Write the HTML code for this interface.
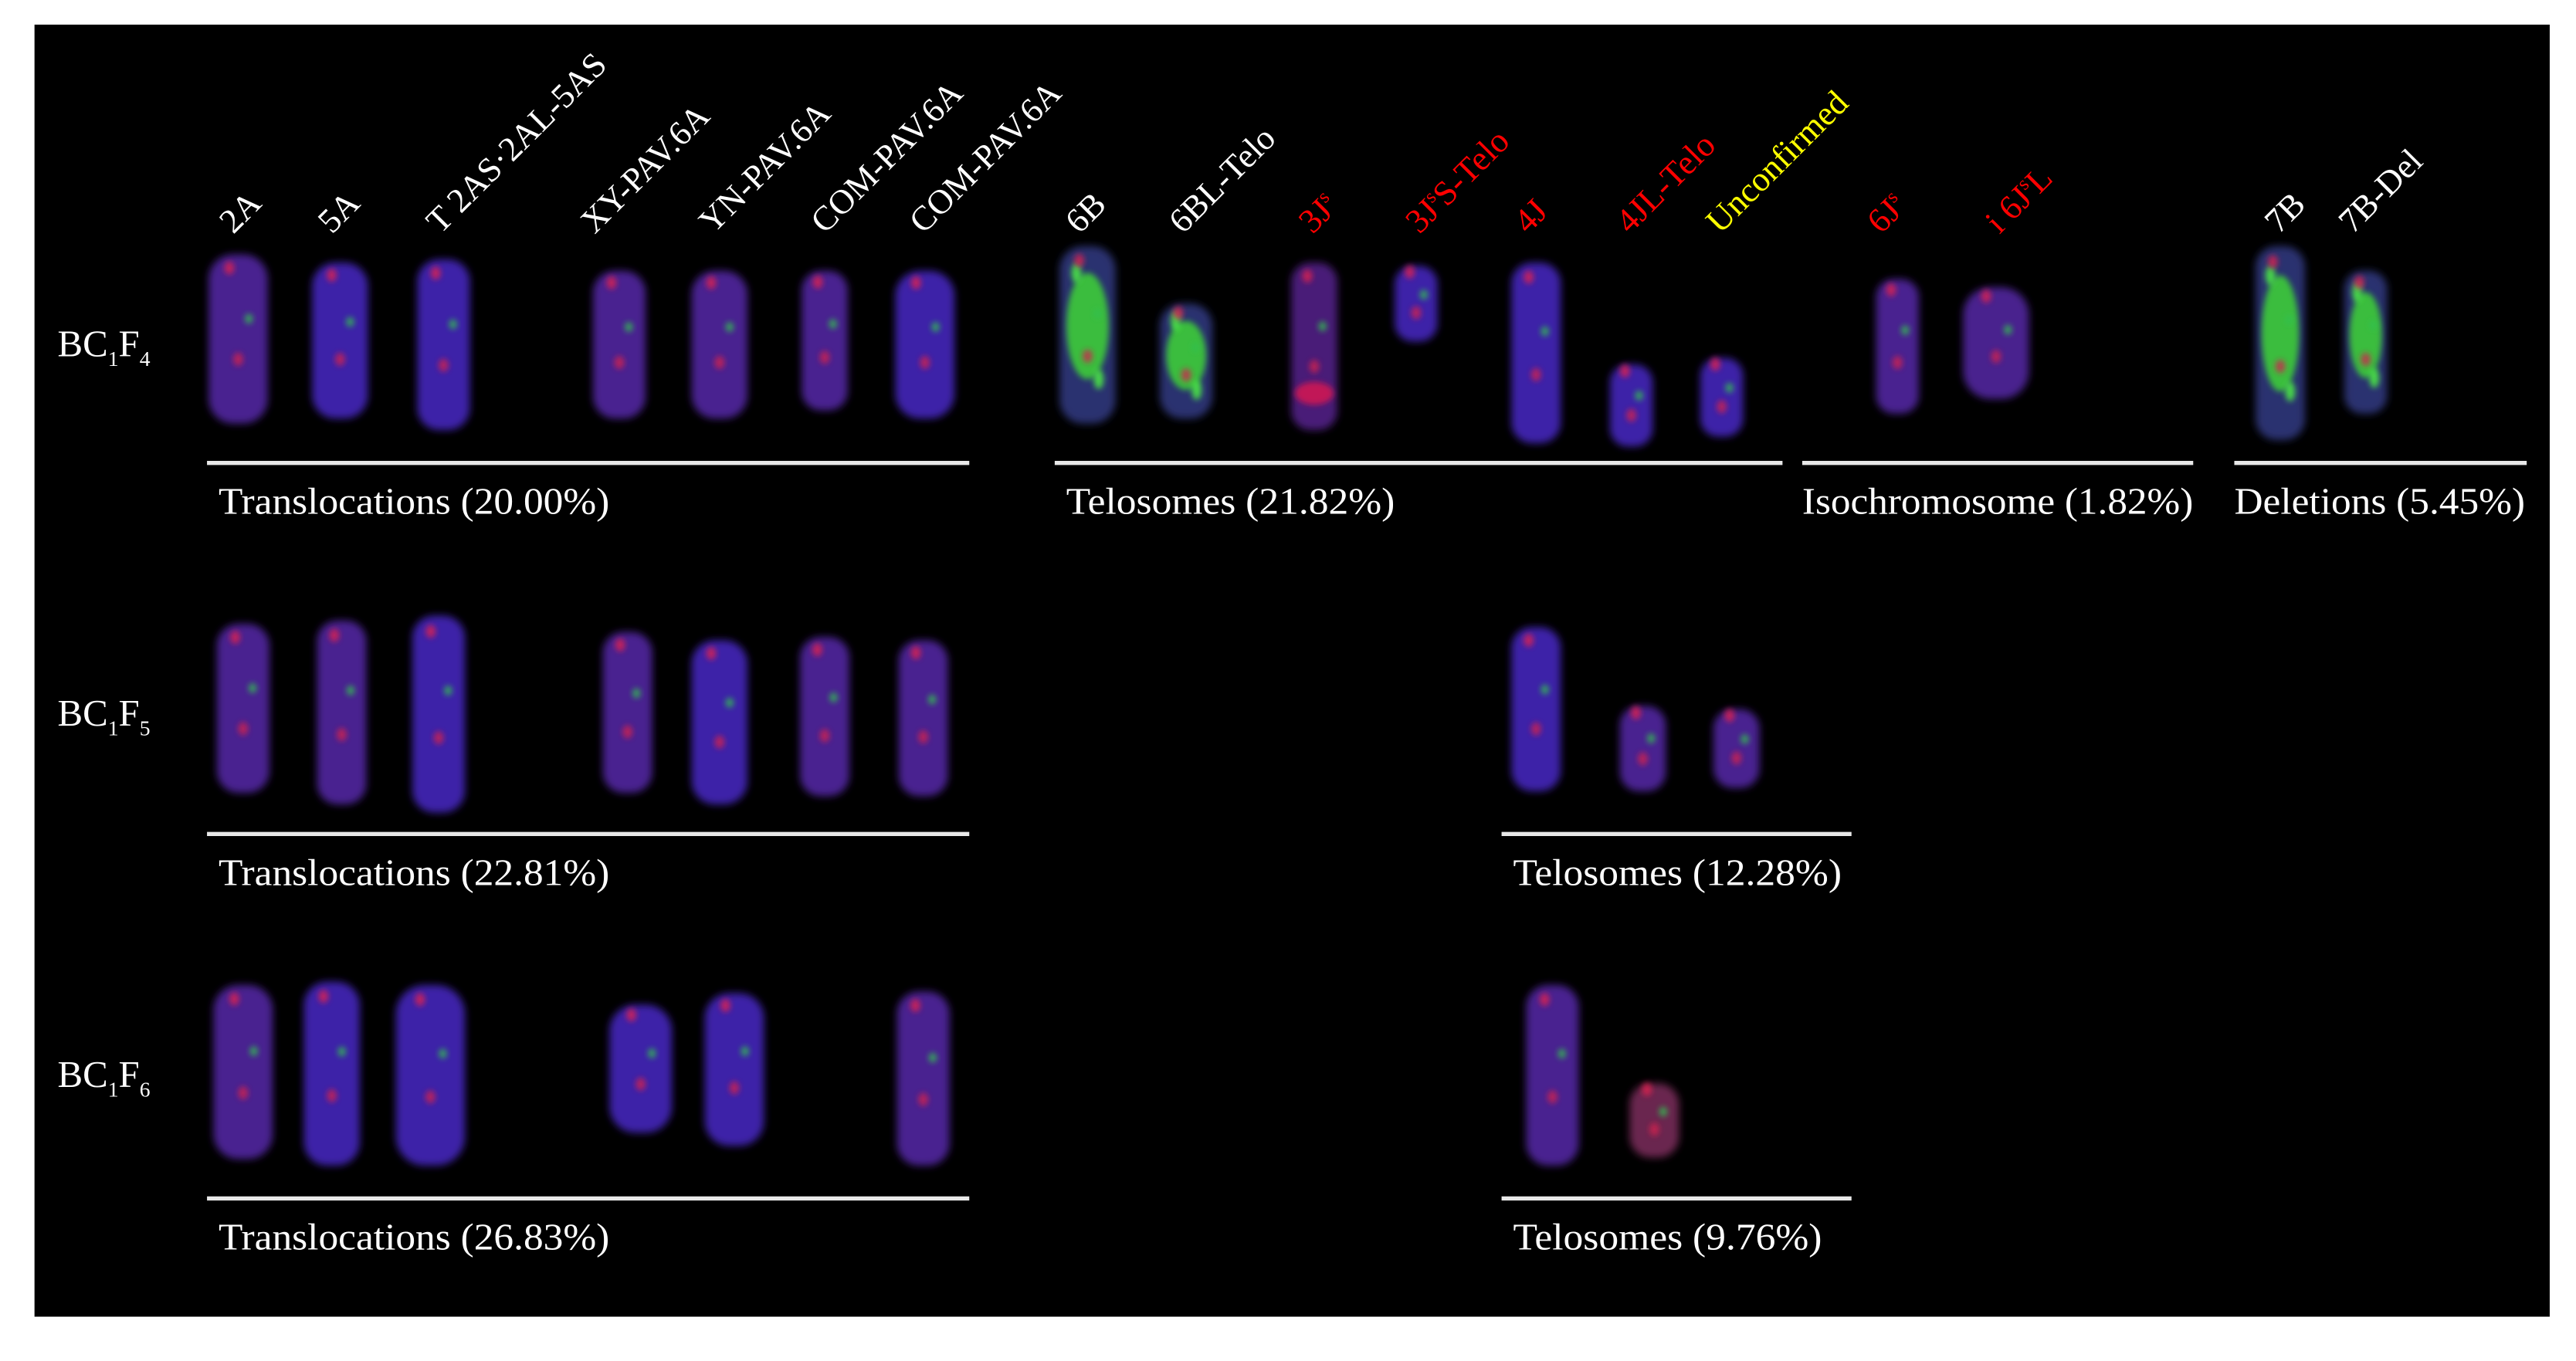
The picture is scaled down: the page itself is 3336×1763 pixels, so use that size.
<!DOCTYPE html>
<html><head><meta charset="utf-8">
<style>
html,body{margin:0;padding:0;background:#fff;}
svg{display:block;}
</style></head>
<body>
<svg id="fig" width="3336" height="1763" viewBox="0 0 1568 829" preserveAspectRatio="none" xmlns="http://www.w3.org/2000/svg" font-family="'Liberation Serif', serif">
<defs>
<filter id="blur" x="-50%" y="-50%" width="200%" height="200%"><feGaussianBlur stdDeviation="2.4"/></filter>
<filter id="blur2" x="-50%" y="-50%" width="200%" height="200%"><feGaussianBlur stdDeviation="1.8"/></filter>
</defs>
<rect x="21" y="15" width="1531" height="787" fill="#000"/>
<g id="chroms"></g>
<g id="labels"></g>
<g id="groups"></g>
<g fill="#fff" font-size="23" font-family="'Liberation Serif', serif">
<text x="35" y="217">BC<tspan font-size="13" dy="6">1</tspan><tspan dy="-6">F</tspan><tspan font-size="13" dy="6">4</tspan></text>
<text x="35" y="442">BC<tspan font-size="13" dy="6">1</tspan><tspan dy="-6">F</tspan><tspan font-size="13" dy="6">5</tspan></text>
<text x="35" y="662">BC<tspan font-size="13" dy="6">1</tspan><tspan dy="-6">F</tspan><tspan font-size="13" dy="6">6</tspan></text>
</g>
</svg>
<script>
const NS="http://www.w3.org/2000/svg";
const labelText=["2A","5A","T 2AS·2AL-5AS","XY-PAV.6A","YN-PAV.6A","COM-PAV.6A","COM-PAV.6A","6B","6BL-Telo","3J","3J","4J","4JL-Telo","Unconfirmed","6J","i 6J"];
const labelSup=["","","","","","","","","","s","s","","","","s","s"];
const labelTail=["","","","","","","","","","","S-Telo","","","","","L"];
const labelX=[142,202,268,362,434,502,562,657,720,799,864,930,992,1047,1145,1217];
const labelColor=["#fff","#fff","#fff","#fff","#fff","#fff","#fff","#fff","#fff","#f00","#f00","#f00","#f00","#ff0","#f00","#f00"];
const label2Text=["7B","7B-Del"];
const label2X=[1387,1432];

const chrX=[145,207,270,377,438,502,563,662,722,800,862,935,993,1048,1155,1215,1388,1440,
 148,208,267,382,438,502,562,935,1000,1057,
 148,202,262,390,447,562,945,1007];
const chrTop=[155,160,158,165,165,165,165,150,185,160,162,160,222,218,170,175,150,165,
 380,378,375,385,390,388,390,382,430,432,
 600,598,600,612,605,604,600,660];
const chrBot=[258,255,262,255,255,250,255,258,255,262,208,270,272,266,252,243,268,252,
 483,490,495,483,490,485,485,482,482,480,
 706,710,710,690,698,710,710,705];
const chrW=[36,34,32,32,34,28,36,34,32,28,26,30,26,26,26,40,30,26,
 32,30,32,30,34,30,30,30,28,28,
 36,34,42,38,36,32,32,30];
const chrType=["r","b","b","r","r","r","b","g","g","rr","b","b","b","b","r","c","g","g",
 "r","r","b","r","b","r","r","b","r","r",
 "r","b","b","b","b","r","r","o"];
const fills={r:"#4a2490",b:"#3c22a8",g:"#2a3070",rr:"#4a1c78",c:"#48248e",o:"#6a2850"};

const cg=document.getElementById('chroms');
for(let i=0;i<chrX.length;i++){
  const x=chrX[i],t=chrTop[i],b=chrBot[i],w=chrW[i];
  const r=document.createElementNS(NS,'rect');
  
  
  r.setAttribute('x',x-w/2);r.setAttribute('y',t);r.setAttribute('width',w);r.setAttribute('height',b-t);
  r.setAttribute('rx',w/2.4);r.setAttribute('fill',fills[chrType[i]]);r.setAttribute('filter','url(#blur)');
  cg.appendChild(r);
  const h=b-t;
  const spots=[];
  if(chrType[i]==="g"){spots.push([0,0.45,w*0.38,'#40e030',0.3*h]);spots.push([-w*0.2,0.15,3,'#50ff40',6]);spots.push([w*0.2,0.75,3,'#50ff40',6]);}
  else if(chrType[i]==="rr"){spots.push([0,0.78,w*0.42,'#e01850',7]);}
  spots.push([-w*0.15,0.08,3,'#e02050',4]);spots.push([w*0.18,0.38,2.5,'#30c050',3]);spots.push([0,0.62,3,'#d02050',4]);
  for(const s of spots){
    const e=document.createElementNS(NS,'ellipse');
    
    
    e.setAttribute('cx',x+s[0]);e.setAttribute('cy',t+h*s[1]);e.setAttribute('rx',s[2]);e.setAttribute('ry',s[4]);
    e.setAttribute('fill',s[3]);e.setAttribute('filter','url(#blur2)');e.setAttribute('opacity','0.8');
    cg.appendChild(e);
  }
}

const lg=document.getElementById('labels');
function addLabel(x,txt,sup,tail,col){
  const t=document.createElementNS(NS,'text');
  
  
  t.setAttribute('x',x);t.setAttribute('y',143);t.setAttribute('fill',col);t.setAttribute('font-size','21');
  t.setAttribute('font-family',"'Liberation Serif', serif");
  t.setAttribute('transform','rotate(-45 '+x+' 143)');
  t.textContent=txt;
  if(sup){const s=document.createElementNS(NS,'tspan');s.setAttribute('font-size','12');s.setAttribute('dy','-8');s.textContent=sup;t.appendChild(s);}
  if(tail){const s=document.createElementNS(NS,'tspan');if(sup)s.setAttribute('dy','8');s.textContent=tail;t.appendChild(s);}
  lg.appendChild(t);
}
for(let i=0;i<labelText.length;i++)addLabel(labelX[i],labelText[i],labelSup[i],labelTail[i],labelColor[i]);
for(let i=0;i<label2Text.length;i++)addLabel(label2X[i],label2Text[i],"","","#fff");

const grpText=["Translocations (20.00%)","Telosomes (21.82%)","Isochromosome (1.82%)","Deletions (5.45%)","Translocations (22.81%)","Telosomes (12.28%)","Translocations (26.83%)","Telosomes (9.76%)"];
const grpX1=[126,642,1097,1360,126,914,126,914];
const grpX2=[590,1085,1335,1538,590,1127,590,1127];
const grpY=[282,282,282,282,508,508,730,730];
const grpW=[238,200,238,177,238,200,238,188];
const gg=document.getElementById('groups');
for(let i=0;i<grpText.length;i++){
  const l=document.createElementNS(NS,'line');
  
  
  l.setAttribute('x1',grpX1[i]);l.setAttribute('x2',grpX2[i]);l.setAttribute('y1',grpY[i]);l.setAttribute('y2',grpY[i]);
  l.setAttribute('stroke','#e8e8e8');l.setAttribute('stroke-width','2.5');
  gg.appendChild(l);
  const t=document.createElementNS(NS,'text');
  
  
  t.setAttribute('x',grpX1[i]+(grpX1[i]===1097||grpX1[i]===1360?0:7));t.setAttribute('y',grpY[i]+31);
  t.setAttribute('fill','#fff');t.setAttribute('font-size','23');
  t.setAttribute('font-family',"'Liberation Serif', serif");
  t.setAttribute('textLength',grpW[i]);t.setAttribute('lengthAdjust','spacingAndGlyphs');
  t.textContent=grpText[i];
  gg.appendChild(t);
}
</script>
</body></html>
